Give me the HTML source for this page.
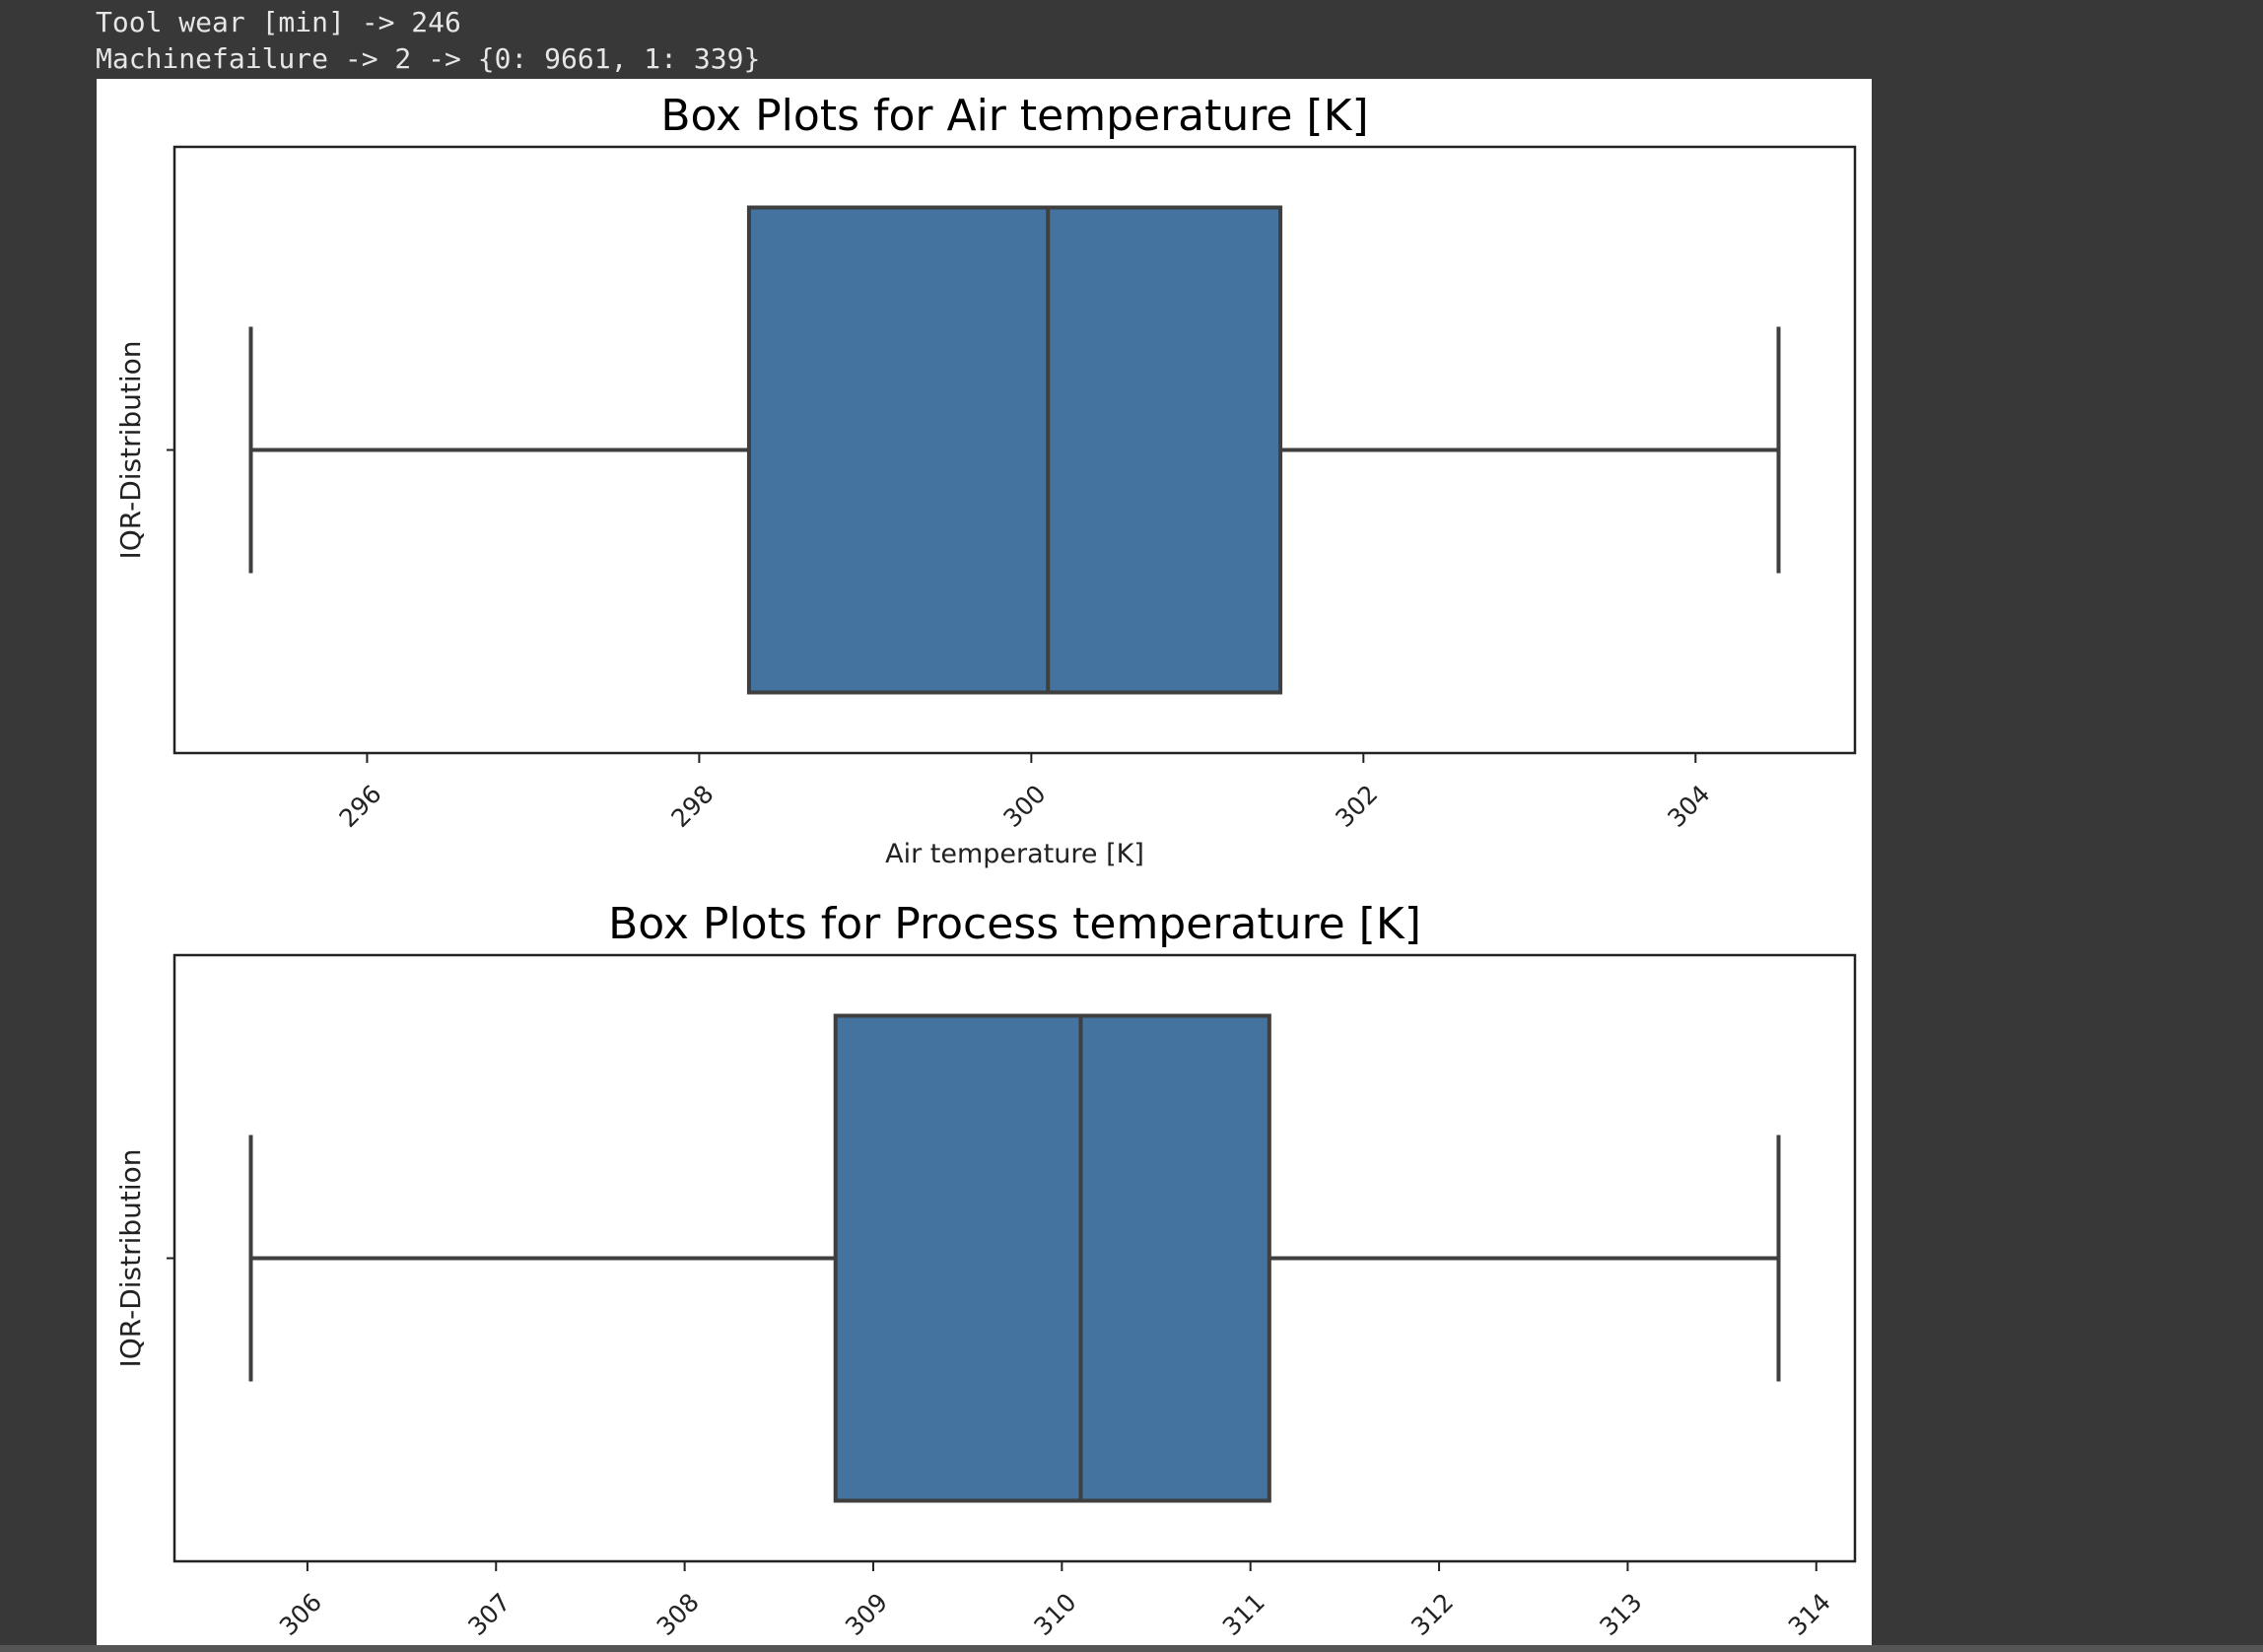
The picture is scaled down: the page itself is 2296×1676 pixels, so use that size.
<!DOCTYPE html>
<html><head><meta charset="utf-8"><style>
html,body{margin:0;padding:0;background:#383838;}
body{width:2296px;height:1676px;overflow:hidden;position:relative;font-family:"DejaVu Sans","Liberation Sans",sans-serif;}
.out{position:absolute;left:97px;color:#e6e6e6;font-family:"DejaVu Sans Mono","Liberation Mono",monospace;font-size:28px;white-space:pre;}
</style></head><body>
<div class="out" style="top:6px">Tool wear [min] -&gt; 246</div>
<div class="out" style="top:43px">Machinefailure -&gt; 2 -&gt; {0: 9661, 1: 339}</div>
<svg id="fig" width="2296" height="1676" style="position:absolute;left:0;top:0">
<rect x="98" y="80" width="1801" height="1589" fill="#fff"/>
<rect x="0" y="1669" width="2296" height="7" fill="#555"/>
</svg>
<script>
// Air temperature stats: [whiskerLow, Q1, median, Q3, whiskerHigh]
const airStats=[295.3,298.3,300.1,301.5,304.5];
const airTicks=[296,298,300,302,304];
// Process temperature stats
const procStats=[305.7,308.8,310.1,311.1,313.8];
const procTicks=[306,307,308,309,310,311,312,313,314];
const titles=["Box Plots for Air temperature [K]","Box Plots for Process temperature [K]"];

const NS="http://www.w3.org/2000/svg";
const svg=document.getElementById('fig');
function mk(t,a,p){const e=document.createElementNS(NS,t);for(const k in a)e.setAttribute(k,a[k]);(p||svg).appendChild(e);return e;}
function panel(stats,ticks,top,title,xlabel,key){
  const L=177,R=1882,T=top,B=top+615;
  const g=mk('g',{});
  
  
  const lo=stats[0],hi=stats[4],pad=(hi-lo)*0.05;
  const x=v=>L+(v-(lo-pad))/((hi+pad)-(lo-pad))*(R-L);
  const cy=(T+B)/2, bh=492, ch=250;
  const c='#3f3f3f';
  const t=mk('text',{x:(L+R)/2,y:T-17,'text-anchor':'middle','font-size':44,fill:'#000'},g);t.textContent=title;
  
  const w1=mk('line',{x1:x(stats[0]),x2:x(stats[1]),y1:cy,y2:cy,stroke:c,'stroke-width':4},g);
  
  const w2=mk('line',{x1:x(stats[3]),x2:x(stats[4]),y1:cy,y2:cy,stroke:c,'stroke-width':4},g);
  
  const c1=mk('line',{x1:x(stats[0]),x2:x(stats[0]),y1:cy-ch/2,y2:cy+ch/2,stroke:c,'stroke-width':4},g);
  
  const c2=mk('line',{x1:x(stats[4]),x2:x(stats[4]),y1:cy-ch/2,y2:cy+ch/2,stroke:c,'stroke-width':4},g);
  
  const bx=mk('rect',{x:x(stats[1]),y:cy-bh/2,width:x(stats[3])-x(stats[1]),height:bh,fill:'#43739e',stroke:c,'stroke-width':4},g);
  
  const md=mk('line',{x1:x(stats[2]),x2:x(stats[2]),y1:cy-bh/2,y2:cy+bh/2,stroke:c,'stroke-width':4},g);
  
  const fr=mk('rect',{x:L,y:T,width:R-L,height:B-T,fill:'none',stroke:'#222','stroke-width':2.5},g);
  
  const yt=mk('line',{x1:L-8,x2:L,y1:cy,y2:cy,stroke:'#222','stroke-width':2},g);
  
  const yl=mk('text',{transform:`translate(142,${cy}) rotate(-90)`,'text-anchor':'middle','font-size':28,fill:'#222'},g);
  yl.textContent='IQR-Distribution';
  
  ticks.forEach(v=>{
    const tk=mk('line',{x1:x(v),x2:x(v),y1:B,y2:B+10,stroke:'#222','stroke-width':2},g);
    
    const tl=mk('text',{transform:`translate(${x(v)+16},${B+43}) rotate(-45)`,'text-anchor':'end','font-size':25,fill:'#222'},g);
    tl.textContent=String(v);
    
  });
  if(xlabel){
    const xl=mk('text',{x:(L+R)/2,y:B+111,'text-anchor':'middle','font-size':27,fill:'#222'},g);
    xl.textContent=xlabel;
    
  }
}
panel(airStats,airTicks,149,titles[0],'Air temperature [K]','air-temperature');
panel(procStats,procTicks,969,titles[1],'','process-temperature');
</script>
</body></html>
